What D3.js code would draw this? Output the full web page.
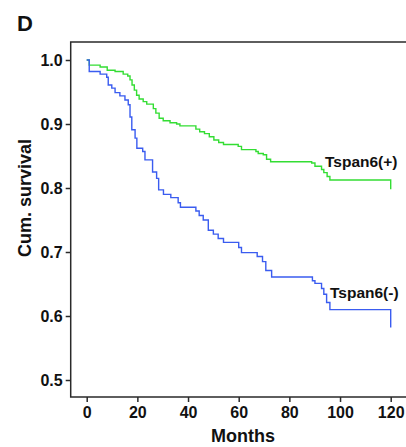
<!DOCTYPE html>
<html lang="en">
<head>
<meta charset="UTF-8">
<script src="https://d3js.org/d3.v7.min.js"></script>
<style>
  body { margin: 0; background: #fff; }
  svg { display: block; font-family: "Liberation Sans", Arial, sans-serif; font-weight: bold; }
</style>
</head>
<body>
<svg id="chart" width="406" height="447"></svg>
<script>
// ---- data ----
const xTicks = [0, 20, 40, 60, 80, 100, 120];
const yTicks = [0.5, 0.6, 0.7, 0.8, 0.9, 1.0];

// Kaplan-Meier steps: [month, survival after step]
const tspanPos = [
  [0, 1.0], [1, 0.992], [5.3, 0.989], [8.1, 0.984], [11.2, 0.982], [14.4, 0.978],
  [16.2, 0.975], [17.1, 0.969], [17.9, 0.961], [18.8, 0.953], [19.7, 0.945],
  [20.7, 0.939], [22.3, 0.935], [23.7, 0.931], [26.3, 0.924], [27.3, 0.917],
  [28.6, 0.909], [30.2, 0.905], [32.9, 0.902], [35.5, 0.900], [36.8, 0.897],
  [43.1, 0.892], [44.6, 0.888], [46.5, 0.885], [48.4, 0.880], [50.2, 0.875],
  [52.1, 0.871], [54.0, 0.868], [59.8, 0.865], [61.1, 0.860], [66.8, 0.857],
  [67.7, 0.854], [69.7, 0.852], [71.0, 0.845], [72.6, 0.841], [88.8, 0.839],
  [90.1, 0.834], [92.7, 0.829], [93.6, 0.824], [94.9, 0.818], [96.0, 0.8125],
  [120, 0.798]
];
const tspanNeg = [
  [0, 1.0], [1, 0.982], [5.3, 0.978], [7.9, 0.973], [8.5, 0.961], [9.9, 0.956],
  [11.2, 0.949], [13.1, 0.944], [15.1, 0.9375], [16.4, 0.930], [17.1, 0.911],
  [17.8, 0.891], [19.1, 0.878], [19.8, 0.862], [22.1, 0.857], [23.0, 0.844],
  [26.0, 0.825], [27.6, 0.815], [28.4, 0.797], [30.3, 0.790], [33.2, 0.785],
  [36.1, 0.777], [37.0, 0.770], [43.1, 0.764], [44.4, 0.757], [46.0, 0.750],
  [48.0, 0.734], [50.0, 0.728], [51.9, 0.721], [54.0, 0.715], [60.0, 0.707],
  [61.1, 0.699], [67.3, 0.693], [69.4, 0.685], [70.7, 0.671], [73.0, 0.661],
  [89.1, 0.655], [90.1, 0.651], [92.7, 0.643], [93.6, 0.634], [94.7, 0.621],
  [96.0, 0.610], [120, 0.582]
];

const series = [
  { name: "Tspan6(+)", values: tspanPos, color: "#33dd33", label: [325, 167] },
  { name: "Tspan6(-)", values: tspanNeg, color: "#3a5cf0", label: [330, 298] }
];

// ---- layout ----
const svg = d3.select("#chart");
const frame = { left: 70.7, right: 406, top: 42, bottom: 397 };
const x = d3.scaleLinear().domain([0, 120]).range([86.7, 390.7]);
const y = d3.scaleLinear().domain([0.5, 1.0]).range([380, 60]);
const axisColor = "#2a2a2a";

// frame lines (top, left, bottom)
svg.append("path")
  .attr("d", `M${frame.right},${frame.top}H${frame.left}V${frame.bottom}H${frame.right}`)
  .attr("fill", "none").attr("stroke", axisColor).attr("stroke-width", 1.5);

// y axis
const gy = svg.append("g")
  .attr("transform", `translate(${frame.left},0)`)
  .call(d3.axisLeft(y).tickValues(yTicks).tickFormat(d3.format(".1f")).tickSize(5).tickPadding(3));
gy.select(".domain").remove();

// x axis
const gx = svg.append("g")
  .attr("transform", `translate(0,${frame.bottom})`)
  .call(d3.axisBottom(x).tickValues(xTicks).tickSize(5).tickPadding(5));
gx.select(".domain").remove();

svg.selectAll(".tick line").attr("stroke", axisColor).attr("stroke-width", 1.5);
svg.selectAll(".tick text")
  .attr("fill", "#111").style("font-size", "16px").style("font-weight", "bold")
  .style("font-family", "'Liberation Sans', Arial, sans-serif");
gy.selectAll(".tick text").attr("dy", "0.35em");

// curves
const line = d3.line()
  .x(d => x(d[0]))
  .y(d => y(d[1]))
  .curve(d3.curveStepAfter);

svg.selectAll(".km")
  .data(series)
  .join("path")
  .attr("class", "km")
  .attr("d", d => line(d.values))
  .attr("fill", "none")
  .attr("stroke", d => d.color)
  .attr("stroke-width", 1.4);

svg.selectAll(".lbl")
  .data(series)
  .join("text")
  .attr("class", "lbl")
  .attr("x", d => d.label[0])
  .attr("y", d => d.label[1])
  .attr("fill", "#111")
  .style("font-size", "15.5px")
  .text(d => d.name);

// titles
svg.append("text")
  .attr("x", 243).attr("y", 442)
  .attr("text-anchor", "middle")
  .attr("fill", "#111")
  .style("font-size", "18px")
  .text("Months");

svg.append("text")
  .attr("transform", "translate(31,198) rotate(-90)")
  .attr("text-anchor", "middle")
  .attr("fill", "#111")
  .style("font-size", "18px")
  .text("Cum. survival");

svg.append("text")
  .attr("x", 17).attr("y", 31)
  .attr("fill", "#111")
  .style("font-size", "22px")
  .text("D");
</script>
</body>
</html>
